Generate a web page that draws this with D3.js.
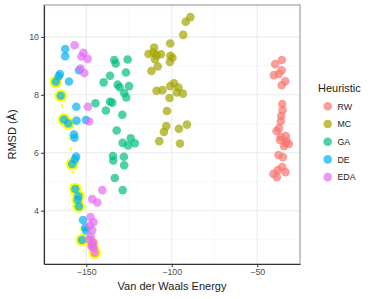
<!DOCTYPE html>
<html>
<head>
<meta charset="utf-8">
<script src="https://cdn.jsdelivr.net/npm/d3@7"></script>
<style>
  body { margin: 0; background: #fff; }
  text { font-family: "Liberation Sans", Arial, sans-serif; }
</style>
</head>
<body>
<svg id="chart" width="374" height="299"></svg>
<script>
// values: [energy, rmsd]
const heuristics = ["RW", "MC", "GA", "DE", "EDA"];
const colors = ["#F8766D", "#A3A500", "#00BF7D", "#00B0F6", "#E76BF3"];

const rw = [[-35.6,9.20],[-39.5,9.06],[-35.7,8.85],[-40.3,8.68],[-37.4,8.72],[-33.6,8.47],[-35.7,8.33],
  [-35.4,7.68],[-35.2,7.47],[-36.0,7.27],[-36.2,7.09],[-37.3,6.85],[-38.7,6.75],[-33.2,6.58],[-36.7,6.44],
  [-33.0,6.40],[-31.5,6.30],[-33.2,6.33],[-34.4,6.23],[-37.6,5.92],[-35.0,5.85],[-35.4,5.51],[-38.0,5.40],
  [-33.5,5.33],[-40.5,5.27],[-38.5,5.16],[-36.3,6.55]];
const mc = [[-89.1,10.68],[-91.8,10.52],[-93.3,10.07],[-100.9,9.77],[-110.3,9.63],[-110.6,9.46],[-113.6,9.41],
  [-106.3,9.40],[-108.9,9.36],[-100.8,9.35],[-99.6,9.28],[-109.8,9.23],[-101.1,9.13],[-108.2,8.98],[-111.9,8.82],
  [-98.7,8.40],[-100.9,8.30],[-96.1,8.25],[-108.9,8.14],[-105.4,8.16],[-97.1,8.08],[-93.5,8.04],[-101.3,7.89],
  [-102.8,7.44],[-103.2,6.92],[-104.6,6.72],[-95.8,6.83],[-91.1,6.97],[-107.3,6.40],[-95.2,6.32]];
const ga = [[-133.6,9.20],[-132.8,9.08],[-125.8,9.22],[-136.1,8.66],[-126.8,8.77],[-139.8,8.43],[-131.6,8.35],
  [-130.5,8.26],[-125.0,8.30],[-127.8,8.06],[-126.6,7.91],[-144.6,7.71],[-136.1,7.76],[-134.8,7.73],[-138.5,7.46],
  [-128.9,7.31],[-132.2,6.77],[-128.7,6.34],[-125.6,6.25],[-121.6,6.33],[-124.0,6.50],[-134.4,5.89],[-134.2,5.73],
  [-128.0,5.86],[-127.8,5.57],[-133.3,5.13],[-128.7,4.71]];
const de = [[-162.3,9.58],[-162.3,9.33],[-165.4,8.72],[-166.1,8.64],[-160.1,8.46],[-154.2,8.85],[-155.8,7.59],
  [-155.7,7.11],[-150.2,7.13],[-157.2,6.63],[-156.9,6.52],[-155.9,5.87],[-156.6,5.78],[-151.9,3.68],[-150.6,3.42],
  [-150.2,3.32],
  [-167.8,8.45],[-164.9,7.97],[-163.0,7.15],[-160.5,7.01],[-158.2,5.61],[-156.4,4.75],[-154.6,4.50],
  [-155.0,4.38],[-154.3,4.15],[-152.5,2.99]];
const eda = [[-156.8,9.71],[-151.6,9.45],[-152.8,9.32],[-149.2,9.24],[-153.3,8.91],[-151.1,8.75],[-149.0,7.59],
  [-148.3,7.08],[-140.6,4.71],[-146.5,4.40],[-143.5,4.28],[-147.5,3.78],[-145.7,3.60],[-148.0,3.49],[-146.5,3.33],
  [-147.4,3.10],[-148.2,3.01],[-145.9,2.90],[-146.7,2.76],[-145.5,2.71],[-146.6,2.85],[-145.0,2.55]];

// highlighted front (big yellow) and small yellow markers
const front = [[-167.8,8.45],[-164.9,7.97],[-163.0,7.15],[-160.5,7.01],[-158.2,5.61],[-156.4,4.75],[-154.6,4.50],
  [-155.0,4.38],[-154.3,4.15],[-152.5,2.99],[-146.6,2.85],[-145.0,2.55]];
const smallMarks = [[-164.2,7.63],[-159.8,6.51],[-159.2,6.12],[-157.6,5.32],[-153.1,3.35]];

const xTicks = [-150, -100, -50];
const yTicks = [4, 6, 8, 10];
const xMinor = [-125, -75];
const yMinor = [3, 5, 7, 9, 11];

const svg = d3.select("#chart");
const pLeft = 44, pRight = 300, pTop = 5, pBottom = 264;

const x = d3.scaleLinear().domain([-174.7, -25]).range([pLeft, pRight]);
const y = d3.scaleLinear().domain([2.16, 11.1]).range([pBottom, pTop]);

// grid
const grid = svg.append("g");
grid.selectAll(".vminor").data(xMinor).join("line")
  .attr("x1", d => x(d)).attr("x2", d => x(d)).attr("y1", pTop).attr("y2", pBottom)
  .attr("stroke", "#f2f2f2").attr("stroke-width", 0.6);
grid.selectAll(".hminor").data(yMinor).join("line")
  .attr("y1", d => y(d)).attr("y2", d => y(d)).attr("x1", pLeft).attr("x2", pRight)
  .attr("stroke", "#f2f2f2").attr("stroke-width", 0.6);
grid.selectAll(".vmajor").data(xTicks).join("line")
  .attr("x1", d => x(d)).attr("x2", d => x(d)).attr("y1", pTop).attr("y2", pBottom)
  .attr("stroke", "#ebebeb").attr("stroke-width", 1.1);
grid.selectAll(".hmajor").data(yTicks).join("line")
  .attr("y1", d => y(d)).attr("y2", d => y(d)).attr("x1", pLeft).attr("x2", pRight)
  .attr("stroke", "#ebebeb").attr("stroke-width", 1.1);

// yellow highlights under the points
svg.append("g").selectAll("circle").data(front).join("circle")
  .attr("cx", d => x(d[0])).attr("cy", d => y(d[1])).attr("r", 6.3)
  .attr("fill", "#FFFF00");
svg.append("g").selectAll("rect").data(smallMarks).join("rect")
  .attr("x", d => x(d[0]) - 1.2).attr("y", d => y(d[1]) - 1.2)
  .attr("width", 2.4).attr("height", 2.4).attr("fill", "#FFFF00");

// points
[rw, mc, ga, de, eda].forEach((set, i) => {
  svg.append("g").selectAll("circle").data(set).join("circle")
    .attr("cx", d => x(d[0])).attr("cy", d => y(d[1])).attr("r", 4.3)
    .attr("fill", colors[i]).attr("fill-opacity", 0.7);
});

// frame
svg.append("rect").attr("x", pLeft).attr("y", pTop)
  .attr("width", pRight - pLeft).attr("height", pBottom - pTop)
  .attr("fill", "none").attr("stroke", "#8c8c8c").attr("stroke-width", 1);

// axes
const xAxis = svg.append("g").attr("transform", `translate(0,${pBottom})`)
  .call(d3.axisBottom(x).tickValues(xTicks).tickSize(3).tickSizeOuter(0).tickPadding(2)
    .tickFormat(d => d3.format("")(d).replace("-", "\u2212")));
const yAxis = svg.append("g").attr("transform", `translate(${pLeft},0)`)
  .call(d3.axisLeft(y).tickValues(yTicks).tickSize(3).tickSizeOuter(0).tickPadding(2));
[xAxis, yAxis].forEach(a => {
  a.select(".domain").attr("stroke", "#333").attr("stroke-width", 1.1);
  a.selectAll(".tick line").attr("stroke", "#333");
  a.selectAll(".tick text").attr("fill", "#4d4d4d").style("font-size", "8.8px")
    .style("font-family", "Liberation Sans, Arial, sans-serif");
});

svg.append("text").attr("x", (pLeft + pRight) / 2).attr("y", 290)
  .attr("text-anchor", "middle").attr("font-size", 11).attr("fill", "#1a1a1a")
  .text("Van der Waals Energy");
svg.append("text").attr("transform", `translate(15.5,${(pTop + pBottom) / 2}) rotate(-90)`)
  .attr("text-anchor", "middle").attr("font-size", 11).attr("fill", "#1a1a1a")
  .text("RMSD (Å)");

// legend
const legend = svg.append("g").attr("transform", "translate(315,0)");
legend.append("text").attr("x", 3).attr("y", 92).attr("font-size", 11).attr("fill", "#1a1a1a")
  .text("Heuristic");
const items = legend.selectAll(".item").data(heuristics).join("g")
  .attr("transform", (d, i) => `translate(0,${106.3 + i * 17.7})`);
items.append("circle").attr("cx", 12.7).attr("cy", 0).attr("r", 4.3)
  .attr("fill", (d, i) => colors[i]).attr("fill-opacity", 0.7);
items.append("text").attr("x", 22.5).attr("y", 3.2).attr("font-size", 8.8).attr("fill", "#1a1a1a")
  .text(d => d);
</script>
</body>
</html>
